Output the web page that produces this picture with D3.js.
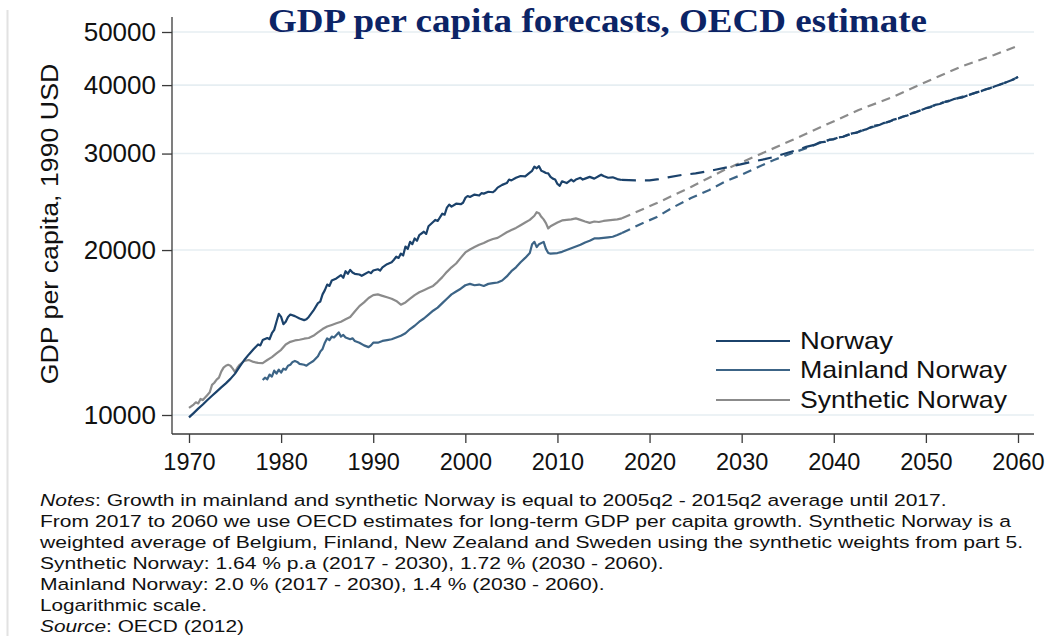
<!DOCTYPE html>
<html>
<head>
<meta charset="utf-8">
<script src="https://cdn.jsdelivr.net/npm/d3@7"></script>
<style>
  body { margin: 0; background: #fff; }
  svg { display: block; }
</style>
</head>
<body>
<svg id="chart" width="1052" height="644"></svg>
<script>
// ---- Data -------------------------------------------------------------
const chartTitle = "GDP per capita forecasts, OECD estimate";
const yAxisTitle = "GDP per capita, 1990 USD";
const yTicks = [10000, 20000, 30000, 40000, 50000];
const xTicks = [1970, 1980, 1990, 2000, 2010, 2020, 2030, 2040, 2050, 2060];
const seriesNames = ["Norway", "Mainland Norway", "Synthetic Norway"];

// [year, GDP per capita] — observed quarterly path
const norwayHist = [
  [1970.0, 9900], [1970.5, 10080], [1971.0, 10270], [1971.5, 10450], [1972.0, 10650],
  [1972.5, 10840], [1973.0, 11030], [1973.5, 11230], [1974.0, 11420], [1974.5, 11640],
  [1975.0, 11900], [1975.5, 12250], [1976.0, 12600], [1976.5, 12900], [1977.0, 13180],
  [1977.5, 13450], [1977.75, 13400], [1978.0, 13700], [1978.5, 13820], [1978.75, 13750],
  [1979.0, 14100], [1979.25, 14300], [1979.5, 14800], [1979.75, 15300], [1980.0, 15100],
  [1980.25, 14650], [1980.5, 14800], [1980.75, 15100], [1981.0, 15250], [1981.5, 15150],
  [1982.0, 15000], [1982.5, 14900], [1982.75, 14950], [1983.0, 15100], [1983.5, 15500],
  [1984.0, 16000], [1984.25, 16100], [1984.5, 16600], [1984.75, 16900], [1985.0, 17300],
  [1985.25, 17200], [1985.5, 17600], [1986.0, 17750], [1986.5, 18000], [1986.75, 17800],
  [1987.0, 18300], [1987.25, 18100], [1987.5, 18400], [1987.75, 18200], [1988.0, 18100],
  [1988.5, 18050], [1988.75, 17950], [1989.0, 18050], [1989.5, 18250], [1989.75, 18150],
  [1990.0, 18350], [1990.5, 18450], [1990.75, 18350], [1991.0, 18600], [1991.5, 18850],
  [1992.0, 19000], [1992.25, 19200], [1992.5, 19450], [1992.75, 19350], [1993.0, 19700],
  [1993.25, 19550], [1993.5, 20300], [1993.75, 20100], [1994.0, 20700], [1994.25, 20500],
  [1994.5, 21000], [1994.75, 20800], [1995.0, 21300], [1995.5, 21600], [1995.75, 21400],
  [1996.0, 22100], [1996.5, 22500], [1996.75, 22700], [1997.0, 22600], [1997.5, 23300],
  [1997.75, 23200], [1998.0, 23900], [1998.25, 24200], [1998.5, 24000], [1999.0, 24300],
  [1999.5, 24250], [1999.75, 24400], [2000.0, 24900], [2000.25, 25100], [2000.5, 25000],
  [2001.0, 25250], [2001.5, 25150], [2001.75, 25400], [2002.0, 25350], [2002.5, 25550],
  [2003.0, 25500], [2003.25, 25700], [2003.5, 26000], [2004.0, 26300], [2004.5, 26500],
  [2004.75, 26900], [2005.0, 26800], [2005.5, 27100], [2006.0, 27300], [2006.5, 27250],
  [2007.0, 27700], [2007.25, 27900], [2007.5, 28400], [2007.75, 28200], [2008.0, 28450],
  [2008.25, 27900], [2008.5, 27800], [2008.75, 27650], [2009.0, 27600], [2009.25, 27200],
  [2009.5, 27000], [2009.75, 26900], [2010.0, 26400], [2010.25, 26200], [2010.5, 26700],
  [2011.0, 26500], [2011.5, 26900], [2011.75, 26700], [2012.0, 26900], [2012.5, 27100],
  [2012.75, 26900], [2013.0, 27000], [2013.5, 27200], [2014.0, 27000], [2014.5, 27300],
  [2014.75, 27450], [2015.0, 27300], [2015.5, 27100], [2016.0, 27150], [2016.5, 26950],
  [2017.0, 26850]
];
// OECD-based projection; noisy once it runs together with the mainland path
const norwayProj = [
  [2017.0, 26850], [2018.5, 26800], [2020.0, 26800], [2021.0, 26950], [2022.0, 27150],
  [2023.5, 27420], [2025.0, 27600], [2026.0, 27780], [2027.0, 28000], [2028.5, 28330],
  [2030.0, 28700], [2031.0, 28960], [2032.5, 29300], [2033.5, 29570], [2035.0, 30100],
  [2036.0, 30450], [2037.0, 30850], [2038.0, 31150]
];
const norwayProjLate = [
  [2038.0, 31150], [2038.5, 31450], [2039.0, 31500], [2039.5, 31800], [2040.0, 31850],
  [2040.5, 32100], [2041.0, 32200], [2041.5, 32450], [2042.0, 32650], [2042.5, 32750],
  [2043.0, 33050], [2043.5, 33200], [2044.0, 33500], [2044.5, 33750], [2045.0, 33850],
  [2045.5, 34150], [2046.0, 34300], [2046.5, 34600], [2047.0, 34750], [2047.5, 35050],
  [2048.0, 35200], [2048.5, 35550], [2049.0, 35750], [2049.5, 36000], [2050.0, 36300],
  [2050.5, 36450], [2051.0, 36800], [2051.5, 36950], [2052.0, 37250], [2052.5, 37400],
  [2053.0, 37700], [2053.5, 37850], [2054.0, 38000], [2054.5, 38300], [2055.0, 38550],
  [2055.5, 38800], [2056.0, 39000], [2056.5, 39300], [2057.0, 39500], [2057.5, 39800],
  [2058.0, 40050], [2058.5, 40350], [2059.0, 40650], [2059.5, 40950], [2060.0, 41400]
];

const mainlandHist = [
  [1978.0, 11580], [1978.25, 11700], [1978.5, 11620], [1978.75, 11850], [1979.0, 11750],
  [1979.25, 12050], [1979.5, 11900], [1979.75, 12100], [1980.0, 11950], [1980.25, 12150],
  [1980.5, 12100], [1980.75, 12300], [1981.0, 12350], [1981.25, 12500], [1981.5, 12550],
  [1981.75, 12500], [1982.0, 12400], [1982.5, 12350], [1982.75, 12300], [1983.0, 12400],
  [1983.5, 12550], [1984.0, 12800], [1984.25, 13050], [1984.5, 13200], [1984.75, 13550],
  [1985.0, 13800], [1985.25, 13700], [1985.5, 13900], [1985.75, 13850], [1986.0, 14000],
  [1986.25, 14150], [1986.5, 13900], [1986.75, 14000], [1987.0, 13850], [1987.5, 13750],
  [1987.75, 13800], [1988.0, 13650], [1988.5, 13550], [1989.0, 13400], [1989.5, 13300],
  [1989.75, 13400], [1990.0, 13550], [1990.5, 13550], [1991.0, 13650], [1991.5, 13700],
  [1992.0, 13750], [1992.5, 13850], [1993.0, 13950], [1993.5, 14100], [1994.0, 14350],
  [1994.5, 14550], [1995.0, 14800], [1995.5, 15000], [1996.0, 15250], [1996.5, 15500],
  [1997.0, 15700], [1997.5, 16000], [1998.0, 16300], [1998.5, 16600], [1999.0, 16800],
  [1999.5, 17000], [2000.0, 17250], [2000.5, 17350], [2001.0, 17250], [2001.5, 17300],
  [2002.0, 17200], [2002.5, 17350], [2003.0, 17400], [2003.5, 17450], [2004.0, 17600],
  [2004.5, 17900], [2005.0, 18300], [2005.5, 18600], [2006.0, 19000], [2006.5, 19350],
  [2007.0, 19750], [2007.25, 20500], [2007.5, 20700], [2007.75, 20250], [2008.0, 20500],
  [2008.5, 20700], [2008.75, 20100], [2009.0, 19750], [2009.25, 19700], [2010.0, 19750],
  [2010.5, 19850], [2011.0, 20000], [2011.5, 20150], [2012.0, 20300], [2012.5, 20450],
  [2013.0, 20650], [2013.5, 20800], [2014.0, 21000], [2014.5, 21000], [2015.0, 21050],
  [2015.5, 21100], [2016.0, 21150], [2016.5, 21300], [2017.0, 21480]
];
const mainlandProj = [
  [2017.0, 21480], [2019.0, 22300], [2020.8, 22980], [2022.5, 23900], [2024.5, 24890],
  [2026.5, 25750], [2028.1, 26620], [2030.0, 27450], [2031.8, 28360], [2033.5, 29200],
  [2035.5, 30070], [2037.5, 30900], [2039.1, 31650], [2041.0, 32200], [2043.0, 33000],
  [2045.0, 33870], [2047.0, 34760], [2049.0, 35760], [2051.0, 36790], [2053.0, 37690],
  [2055.0, 38540], [2057.0, 39510], [2059.0, 40640], [2060.0, 41400]
];

const syntheticHist = [
  [1970.0, 10300], [1970.5, 10450], [1970.75, 10550], [1971.0, 10500], [1971.25, 10700],
  [1971.5, 10650], [1972.0, 10880], [1972.25, 11000], [1972.5, 11350], [1972.75, 11450],
  [1973.0, 11600], [1973.25, 11700], [1973.5, 12000], [1973.75, 12200], [1974.0, 12300],
  [1974.25, 12350], [1974.5, 12300], [1974.75, 12150], [1975.0, 11980], [1975.25, 12200],
  [1975.5, 12350], [1975.75, 12450], [1976.0, 12550], [1976.5, 12600], [1977.0, 12500],
  [1977.5, 12450], [1978.0, 12440], [1978.5, 12600], [1979.0, 12750], [1979.5, 12950],
  [1980.0, 13150], [1980.5, 13450], [1981.0, 13600], [1981.5, 13680], [1982.0, 13720],
  [1982.5, 13780], [1983.0, 13820], [1983.5, 13950], [1984.0, 14150], [1984.5, 14350],
  [1985.0, 14500], [1985.5, 14600], [1986.0, 14700], [1986.5, 14800], [1987.0, 14950],
  [1987.5, 15100], [1988.0, 15450], [1988.5, 15800], [1989.0, 16050], [1989.5, 16350],
  [1990.0, 16550], [1990.5, 16600], [1991.0, 16500], [1991.5, 16400], [1992.0, 16300],
  [1992.5, 16150], [1993.0, 15900], [1993.5, 16050], [1994.0, 16300], [1994.5, 16550],
  [1995.0, 16750], [1995.5, 16900], [1996.0, 17050], [1996.5, 17200], [1997.0, 17500],
  [1997.5, 17850], [1998.0, 18250], [1998.5, 18600], [1999.0, 18900], [1999.5, 19350],
  [2000.0, 19800], [2000.5, 20050], [2001.0, 20250], [2001.5, 20450], [2002.0, 20600],
  [2002.5, 20800], [2003.0, 20950], [2003.5, 21050], [2004.0, 21300], [2004.5, 21550],
  [2005.0, 21750], [2005.5, 21950], [2006.0, 22200], [2006.5, 22450], [2007.0, 22700],
  [2007.5, 23100], [2007.75, 23450], [2008.0, 23350], [2008.25, 23000], [2008.5, 22750],
  [2008.75, 22400], [2009.0, 21900], [2009.25, 22100], [2010.0, 22450], [2010.5, 22650],
  [2011.0, 22700], [2011.5, 22750], [2012.0, 22850], [2012.5, 22700], [2013.0, 22550],
  [2013.5, 22420], [2014.0, 22550], [2014.5, 22500], [2015.0, 22600], [2015.5, 22650],
  [2016.0, 22700], [2016.5, 22750], [2017.0, 22850]
];
const syntheticProj = [
  [2017.0, 22850], [2020.8, 24370], [2024.5, 26070], [2028.1, 28000], [2031.8, 29820],
  [2035.5, 31750], [2039.1, 33820], [2042.7, 36030], [2046.4, 38050], [2050.0, 40530],
  [2053.7, 43150], [2057.4, 45390], [2060.0, 47200]
];

const notesLines = [
  [["Notes", true], [": Growth in mainland and synthetic Norway is equal to 2005q2 - 2015q2 average until 2017.", false]],
  [["From 2017 to 2060 we use OECD estimates for long-term GDP per capita growth. Synthetic Norway is a", false]],
  [["weighted average of Belgium, Finland, New Zealand and Sweden using the synthetic weights from part 5.", false]],
  [["Synthetic Norway: 1.64 % p.a (2017 - 2030), 1.72 % (2030 - 2060).", false]],
  [["Mainland Norway: 2.0 % (2017 - 2030), 1.4 % (2030 - 2060).", false]],
  [["Logarithmic scale.", false]],
  [["Source", true], [": OECD (2012)", false]]
];
const notesWidths = [907, 972, 984, 624, 565, 167, 204];

// ---- Layout & styles --------------------------------------------------
const colors = { norway: "#1b426b", mainland: "#3c6486", synthetic: "#8b8b8b" };
const plot = { left: 172, right: 1034, top: 17, bottom: 434 };
const sans = "'Liberation Sans', Arial, sans-serif";
const serif = "'Liberation Serif', 'Times New Roman', serif";

const svg = d3.select("#chart");

// Fit a text group to a given width by horizontal scaling
function fitText(g, x, y, width) {
  const len = g.select("text").node().getComputedTextLength();
  const k = width / len;
  g.attr("transform", `translate(${x},${y}) scale(${k},1)`);
}

// faint frame rule on the far left
svg.append("line")
  .attr("x1", 7.5).attr("x2", 7.5).attr("y1", 10).attr("y2", 636)
  .attr("stroke", "#e2e2e2").attr("stroke-width", 2);

const x = d3.scaleLinear().domain([1970, 2060]).range([189, 1018]);
const y = d3.scaleLog().domain([10000, 50000]).range([415, 32]);

// gridlines
svg.append("g").selectAll("line").data(yTicks).join("line")
  .attr("x1", plot.left).attr("x2", plot.right)
  .attr("y1", d => y(d)).attr("y2", d => y(d))
  .attr("stroke", "#e6eef2").attr("stroke-width", 1.6);

// axis lines
svg.append("line")
  .attr("x1", plot.left).attr("x2", plot.left).attr("y1", plot.top).attr("y2", plot.bottom)
  .attr("stroke", "#3a3a3a").attr("stroke-width", 1.3);
svg.append("line")
  .attr("x1", plot.left).attr("x2", plot.right).attr("y1", plot.bottom).attr("y2", plot.bottom)
  .attr("stroke", "#3a3a3a").attr("stroke-width", 1.3);

// y axis
const yAxis = svg.append("g").attr("transform", `translate(${plot.left},0)`)
  .call(d3.axisLeft(y).tickValues(yTicks).tickFormat(d3.format("d")).tickSize(10).tickPadding(6));
yAxis.select(".domain").remove();
yAxis.selectAll(".tick line").attr("stroke", "#3a3a3a").attr("stroke-width", 1.3);
yAxis.selectAll(".tick text")
  .attr("font-family", sans).attr("font-size", 26).attr("fill", "#111");

// x axis
const xAxis = svg.append("g").attr("transform", `translate(0,${plot.bottom})`)
  .call(d3.axisBottom(x).tickValues(xTicks).tickFormat(d3.format("d")).tickSize(9).tickPadding(10));
xAxis.select(".domain").remove();
xAxis.selectAll(".tick line").attr("stroke", "#3a3a3a").attr("stroke-width", 1.3);
xAxis.selectAll(".tick text")
  .attr("font-family", sans).attr("font-size", 23.5).attr("fill", "#111");

// series: solid history, dashed projection
const line = d3.line().x(d => x(d[0])).y(d => y(d[1]));
const paths = [
  { data: syntheticHist, color: colors.synthetic, dash: null },
  { data: syntheticProj, color: colors.synthetic, dash: "9,6" },
  { data: mainlandHist, color: colors.mainland, dash: null },
  { data: mainlandProj, color: colors.mainland, dash: "9,6" },
  { data: norwayHist, color: colors.norway, dash: null },
  { data: norwayProj, color: colors.norway, dash: "14,9" },
  { data: norwayProjLate, color: colors.norway, dash: "11,1.5" }
];
svg.append("g").attr("fill", "none").attr("stroke-linejoin", "round")
  .selectAll("path").data(paths).join("path")
  .attr("d", d => line(d.data))
  .attr("stroke", d => d.color)
  .attr("stroke-width", 2.2)
  .attr("stroke-dasharray", d => d.dash);

// title
const gTitle = svg.append("g");
gTitle.append("text").text(chartTitle)
  .attr("font-family", serif).attr("font-weight", "bold").attr("font-size", 34)
  .attr("fill", "#0c2466");
fitText(gTitle, 268, 32, 659);

// y axis title
const gYT = svg.append("g");
gYT.append("text").text(yAxisTitle)
  .attr("font-family", sans).attr("font-size", 23).attr("fill", "#111")
  .attr("text-anchor", "middle");
{
  const len = gYT.select("text").node().getComputedTextLength();
  gYT.attr("transform", `translate(58,224) rotate(-90) scale(${321 / len},1)`);
}

// legend
const legendItems = [
  { name: seriesNames[0], color: colors.norway, w: 93 },
  { name: seriesNames[1], color: colors.mainland, w: 207 },
  { name: seriesNames[2], color: colors.synthetic, w: 207 }
];
const legendY = [341, 370, 400];
legendItems.forEach((it, i) => {
  svg.append("line")
    .attr("x1", 716).attr("x2", 790).attr("y1", legendY[i]).attr("y2", legendY[i])
    .attr("stroke", it.color).attr("stroke-width", 2.2);
  const g = svg.append("g");
  g.append("text").text(it.name)
    .attr("font-family", sans).attr("font-size", 23).attr("fill", "#111");
  fitText(g, 800, legendY[i] + 8, it.w);
});

// notes
notesLines.forEach((parts, i) => {
  const g = svg.append("g");
  const t = g.append("text").attr("font-family", sans).attr("font-size", 16.5).attr("fill", "#111");
  parts.forEach(([str, ital]) => {
    t.append("tspan").text(str).attr("font-style", ital ? "italic" : "normal");
  });
  fitText(g, 40, 506 + i * 21, notesWidths[i]);
});
</script>
</body>
</html>
